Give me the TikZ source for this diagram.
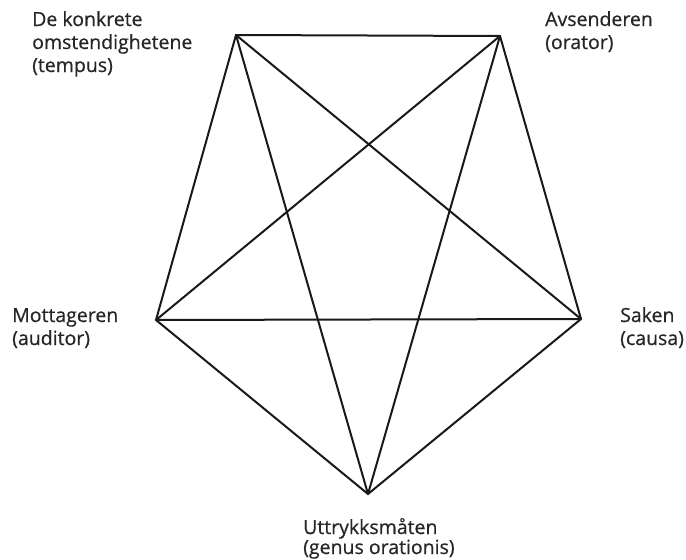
\documentclass[tikz,border=0pt]{standalone}
\usepackage{fontspec}
\setmainfont{Open Sans}
\newfontfamily\lblfont{Open Sans}[FakeBold=0.6]
\begin{document}
\begin{tikzpicture}[x=1pt,y=-1pt,
  edge/.style={line width=2pt,draw=black!90,line join=miter},
  lbl/.style={inner sep=0pt,align=left,text=black!85,font=\lblfont\fontsize{19.5}{23}\selectfont}]
\useasboundingbox (0,0) rectangle (686,560);
\coordinate (tl) at (236,35);
\coordinate (tr) at (500,36);
\coordinate (r) at (581,319);
\coordinate (b) at (368,494);
\coordinate (l) at (156,320);
\draw[edge] (tl) -- (tr) -- (r) -- (b) -- (l) -- cycle;
\draw[edge] (tl) -- (r);
\draw[edge] (tl) -- (b);
\draw[edge] (tr) -- (l);
\draw[edge] (tr) -- (b);
\draw[edge] (l) -- (r);
\node[lbl,anchor=base west] (ltl) at (32,72) {De konkrete\\omstendighetene\\(tempus)};
\node[lbl,anchor=base west] (ltr) at (545,49) {Avsenderen\\(orator)};
\node[lbl,anchor=base west] (ll) at (12,345) {Mottageren\\(auditor)};
\node[lbl,anchor=base west] (lr) at (620,345) {Saken\\(causa)};
\node[lbl,anchor=base west,font=\lblfont\fontsize{19.5}{20}\selectfont] (lb) at (303,554) {Uttrykksmåten\\(genus orationis)};
\end{tikzpicture}
\end{document}
